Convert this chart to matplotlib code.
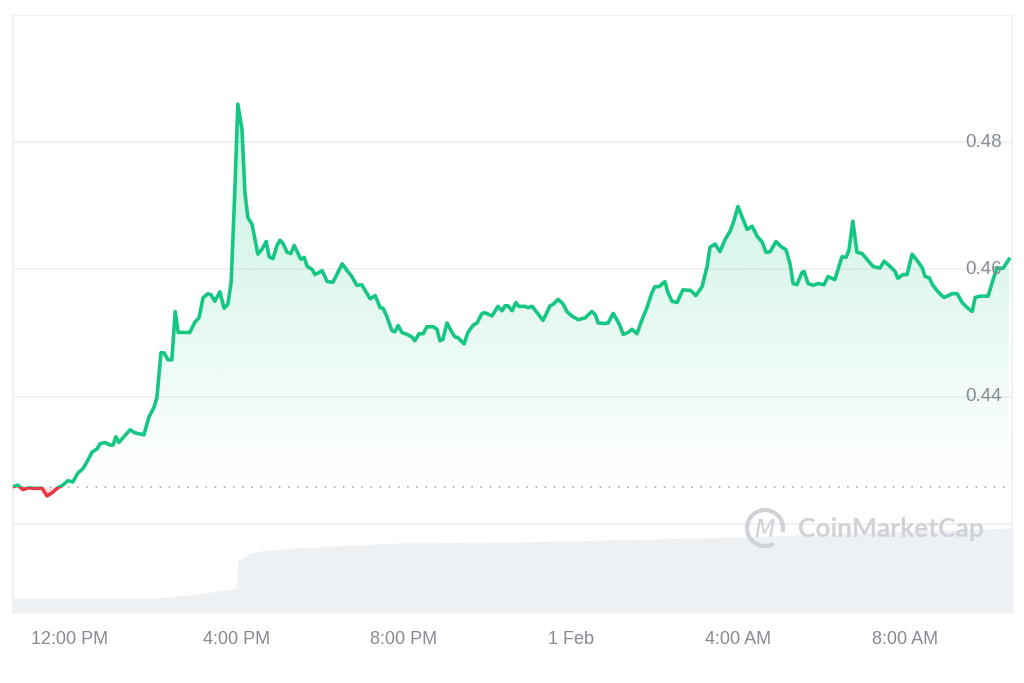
import numpy as np
import matplotlib
matplotlib.use('Agg')
import matplotlib.pyplot as plt
from matplotlib.patches import Rectangle, Arc
from matplotlib.transforms import blended_transform_factory

# hours relative to 12:00 PM (31 Jan), price in USD
hours = [
    -1.34, -1.25, -1.13, -0.98, -0.89, -0.67, -0.55, -0.41, -0.29, -0.17,
    -0.05, 0.07, 0.19, 0.31, 0.41, 0.53, 0.65, 0.72, 0.84, 0.96,
    1.03, 1.10, 1.17, 1.29, 1.44, 1.56, 1.65, 1.77, 1.89, 2.01,
    2.08, 2.18, 2.25, 2.35, 2.44, 2.52, 2.59, 2.71, 2.87, 2.99,
    3.09, 3.19, 3.31, 3.38, 3.47, 3.59, 3.69, 3.78, 3.86, 3.95,
    4.02, 4.12, 4.19, 4.26, 4.36, 4.50, 4.60, 4.70, 4.77, 4.86,
    4.96, 5.03, 5.10, 5.20, 5.29, 5.37, 5.44, 5.53, 5.61, 5.68,
    5.80, 5.87, 6.04, 6.16, 6.30, 6.52, 6.64, 6.75, 6.87, 6.99,
    7.07, 7.19, 7.31, 7.43, 7.50, 7.59, 7.71, 7.78, 7.86, 7.95,
    8.07, 8.19, 8.26, 8.36, 8.46, 8.55, 8.70, 8.79, 8.86, 8.93,
    9.03, 9.15, 9.22, 9.29, 9.44, 9.53, 9.65, 9.75, 9.87, 9.94,
    10.11, 10.25, 10.35, 10.42, 10.49, 10.59, 10.68, 10.75, 10.90, 10.97,
    11.07, 11.19, 11.33, 11.50, 11.57, 11.69, 11.81, 11.90, 12.02, 12.17,
    12.34, 12.50, 12.58, 12.65, 12.81, 12.89, 13.01, 13.10, 13.17, 13.25,
    13.37, 13.46, 13.58, 13.70, 13.82, 13.94, 14.01, 14.11, 14.25, 14.32,
    14.42, 14.54, 14.68, 14.87, 14.99, 15.14, 15.26, 15.33, 15.45, 15.57,
    15.69, 15.81, 15.90, 16.00, 16.12, 16.22, 16.34, 16.46, 16.58, 16.67,
    16.77, 16.91, 17.03, 17.15, 17.25, 17.32, 17.41, 17.53, 17.58, 17.68,
    17.80, 17.92, 18.06, 18.16, 18.32, 18.49, 18.59, 18.66, 18.75, 18.85,
    18.97, 19.09, 19.23, 19.40, 19.50, 19.64, 19.76, 19.83, 19.95, 20.05,
    20.17, 20.29, 20.41, 20.48, 20.58, 20.67, 20.79, 20.93, 21.01, 21.13,
    21.25, 21.37, 21.49, 21.61, 21.68, 21.80, 21.99, 22.11, 22.20, 22.35,
    22.49,
]
price = [
    0.4259, 0.4261, 0.4254, 0.4257, 0.4256, 0.4256, 0.4244, 0.4250, 0.4257, 0.4261,
    0.4268, 0.4266, 0.4280, 0.4287, 0.4298, 0.4313, 0.4318, 0.4326, 0.4328, 0.4324,
    0.4324, 0.4337, 0.4328, 0.4337, 0.4348, 0.4343, 0.4342, 0.4340, 0.4368, 0.4383,
    0.4398, 0.4469, 0.4469, 0.4458, 0.4458, 0.4534, 0.4501, 0.4501, 0.4501, 0.4517,
    0.4524, 0.4556, 0.4562, 0.4560, 0.4550, 0.4565, 0.4539, 0.4545, 0.4580, 0.4726,
    0.4860, 0.4820, 0.4721, 0.4682, 0.4671, 0.4624, 0.4632, 0.4644, 0.4620, 0.4617,
    0.4638, 0.4646, 0.4641, 0.4627, 0.4625, 0.4638, 0.4628, 0.4616, 0.4619, 0.4605,
    0.4600, 0.4592, 0.4598, 0.4581, 0.4580, 0.4609, 0.4598, 0.4589, 0.4575, 0.4576,
    0.4567, 0.4554, 0.4559, 0.4540, 0.4539, 0.4526, 0.4504, 0.4502, 0.4512, 0.4501,
    0.4498, 0.4494, 0.4488, 0.4499, 0.4499, 0.4510, 0.4510, 0.4506, 0.4488, 0.4490,
    0.4516, 0.4501, 0.4494, 0.4493, 0.4483, 0.4501, 0.4512, 0.4516, 0.4531, 0.4532,
    0.4527, 0.4542, 0.4535, 0.4543, 0.4543, 0.4535, 0.4548, 0.4542, 0.4542, 0.4540,
    0.4542, 0.4532, 0.4520, 0.4543, 0.4545, 0.4553, 0.4546, 0.4534, 0.4527, 0.4521,
    0.4524, 0.4534, 0.4529, 0.4516, 0.4515, 0.4516, 0.4531, 0.4521, 0.4512, 0.4498,
    0.4501, 0.4506, 0.4499, 0.4521, 0.4540, 0.4564, 0.4573, 0.4573, 0.4581, 0.4564,
    0.4550, 0.4548, 0.4568, 0.4567, 0.4559, 0.4573, 0.4605, 0.4635, 0.4640, 0.4628,
    0.4647, 0.4660, 0.4676, 0.4699, 0.4679, 0.4663, 0.4668, 0.4652, 0.4643, 0.4627,
    0.4628, 0.4644, 0.4636, 0.4631, 0.4608, 0.4578, 0.4576, 0.4595, 0.4597, 0.4578,
    0.4575, 0.4578, 0.4576, 0.4589, 0.4584, 0.4620, 0.4619, 0.4631, 0.4676, 0.4627,
    0.4625, 0.4616, 0.4605, 0.4602, 0.4613, 0.4605, 0.4597, 0.4586, 0.4592, 0.4592,
    0.4624, 0.4614, 0.4603, 0.4589, 0.4587, 0.4575, 0.4565, 0.4556, 0.4558, 0.4562,
    0.4562, 0.4548, 0.4540, 0.4534, 0.4556, 0.4558, 0.4558, 0.4584, 0.4602, 0.4602,
    0.4616,
]
ref_price = 0.4258

# volume (relative units)
vol_hours = [-1.365, 2.04, 2.64, 3.23, 3.90, 3.98, 4.02, 4.31, 4.72, 6.30,
             7.90, 10.59, 12.98, 16.17, 18.56, 22.56]
volume = [15, 15, 17, 20, 24, 25, 52, 60, 63, 67,
          70, 71, 73, 76, 80, 85]

xticks = [0, 4, 8, 12, 16, 20]
xlabels = ['12:00 PM', '4:00 PM', '8:00 PM', '1 Feb', '4:00 AM', '8:00 AM']
grid_vals = [0.42, 0.44, 0.46, 0.48, 0.50]
ylabels = [0.44, 0.46, 0.48]

green = '#16c784'
red = '#ea3943'
label_col = '#858a93'

hours = np.array(hours)
price = np.array(price)

fig = plt.figure(figsize=(10.24, 6.83), dpi=100)
ax = fig.add_axes([13 / 1024, 1 - 613 / 683, 999 / 1024, 598 / 683])
axv = ax.twinx()
ax.set_zorder(axv.get_zorder() + 1)
ax.patch.set_visible(False)

xmin, xmax = -1.365, 22.563
ymin, ymax = 0.406, 0.50

# volume
axv.fill_between(vol_hours, volume, 0, color='#eef1f4', lw=0)
axv.set_ylim(0, 598)
axv.set_yticks([])
for s in axv.spines.values():
    s.set_visible(False)

# grid
for g in grid_vals:
    ax.axhline(g, color='#eceef1', lw=1.1, zorder=0)

# gradient fill between line and reference
poly = ax.fill_between(hours, price, ref_price, color='none', lw=0)
grad = np.zeros((256, 1, 4))
grad[:, 0, :3] = matplotlib.colors.to_rgb(green)
grad[:, 0, 3] = np.linspace(0.25, 0.0, 256)
im = ax.imshow(grad, extent=[xmin, xmax, ref_price, 0.487], origin='upper',
               aspect='auto', zorder=1, interpolation='bilinear')
im.set_clip_path(poly.get_paths()[0], transform=ax.transData)

ax.fill_between(hours, price, ref_price, where=price < ref_price,
                interpolate=True, color=red, alpha=0.15, lw=0, zorder=1)

ax.set_xlim(xmin, xmax)
ax.set_ylim(ymin, ymax)

# price line, split at the reference price
line_g, = ax.plot(hours, price, color=green, lw=2.6, zorder=3,
                  solid_joinstyle='round')
line_r, = ax.plot(hours, price, color=red, lw=2.6, zorder=3,
                  solid_joinstyle='round')
above = Rectangle((xmin, ref_price), xmax - xmin, ymax - ref_price,
                  transform=ax.transData, visible=False)
below = Rectangle((xmin, ymin), xmax - xmin, ref_price - ymin,
                  transform=ax.transData, visible=False)
ax.add_patch(above)
ax.add_patch(below)
line_g.set_clip_path(above)
line_r.set_clip_path(below)

ax.axhline(ref_price, xmin=0, xmax=0.995, color='#9aa0aa', lw=1.1,
           ls=(0, (1, 5)), zorder=2)

# axes styling
for side in ['top', 'bottom']:
    ax.spines[side].set_visible(False)
for side in ['left', 'right']:
    ax.spines[side].set_color('#eceef1')
    ax.spines[side].set_linewidth(1.1)

ax.set_yticks([])
ax.set_xticks(xticks)
ax.set_xticklabels(xlabels, fontsize=13, color=label_col,
                   fontfamily='Liberation Sans')
ax.tick_params(axis='x', length=0, pad=13)

tr = blended_transform_factory(ax.transAxes, ax.transData)
for v in ylabels:
    ax.text(0.9895, v, f'{v:.2f}', transform=tr, ha='right', va='center',
            fontsize=13.5, color=label_col, fontfamily='Liberation Sans',
            zorder=4)

# watermark
ax.add_patch(Arc((765 / 1024, 1 - 528 / 683), 36 / 1024, 36 / 683,
                 theta1=-20, theta2=290, transform=fig.transFigure,
                 color='#cfd2d7', lw=3, zorder=4))
fig.text(765 / 1024, 1 - 530 / 683, r'$\mathit{M}$', ha='center', va='center',
         fontsize=17, color='#cfd2d7', zorder=4)
fig.text(798 / 1024, 1 - 529 / 683, 'CoinMarketCap', ha='left', va='center',
         fontsize=19, color='#cfd2d7', fontfamily='Lato', fontweight='bold',
         zorder=4)

fig.savefig('out.png', dpi=100, facecolor='white')
